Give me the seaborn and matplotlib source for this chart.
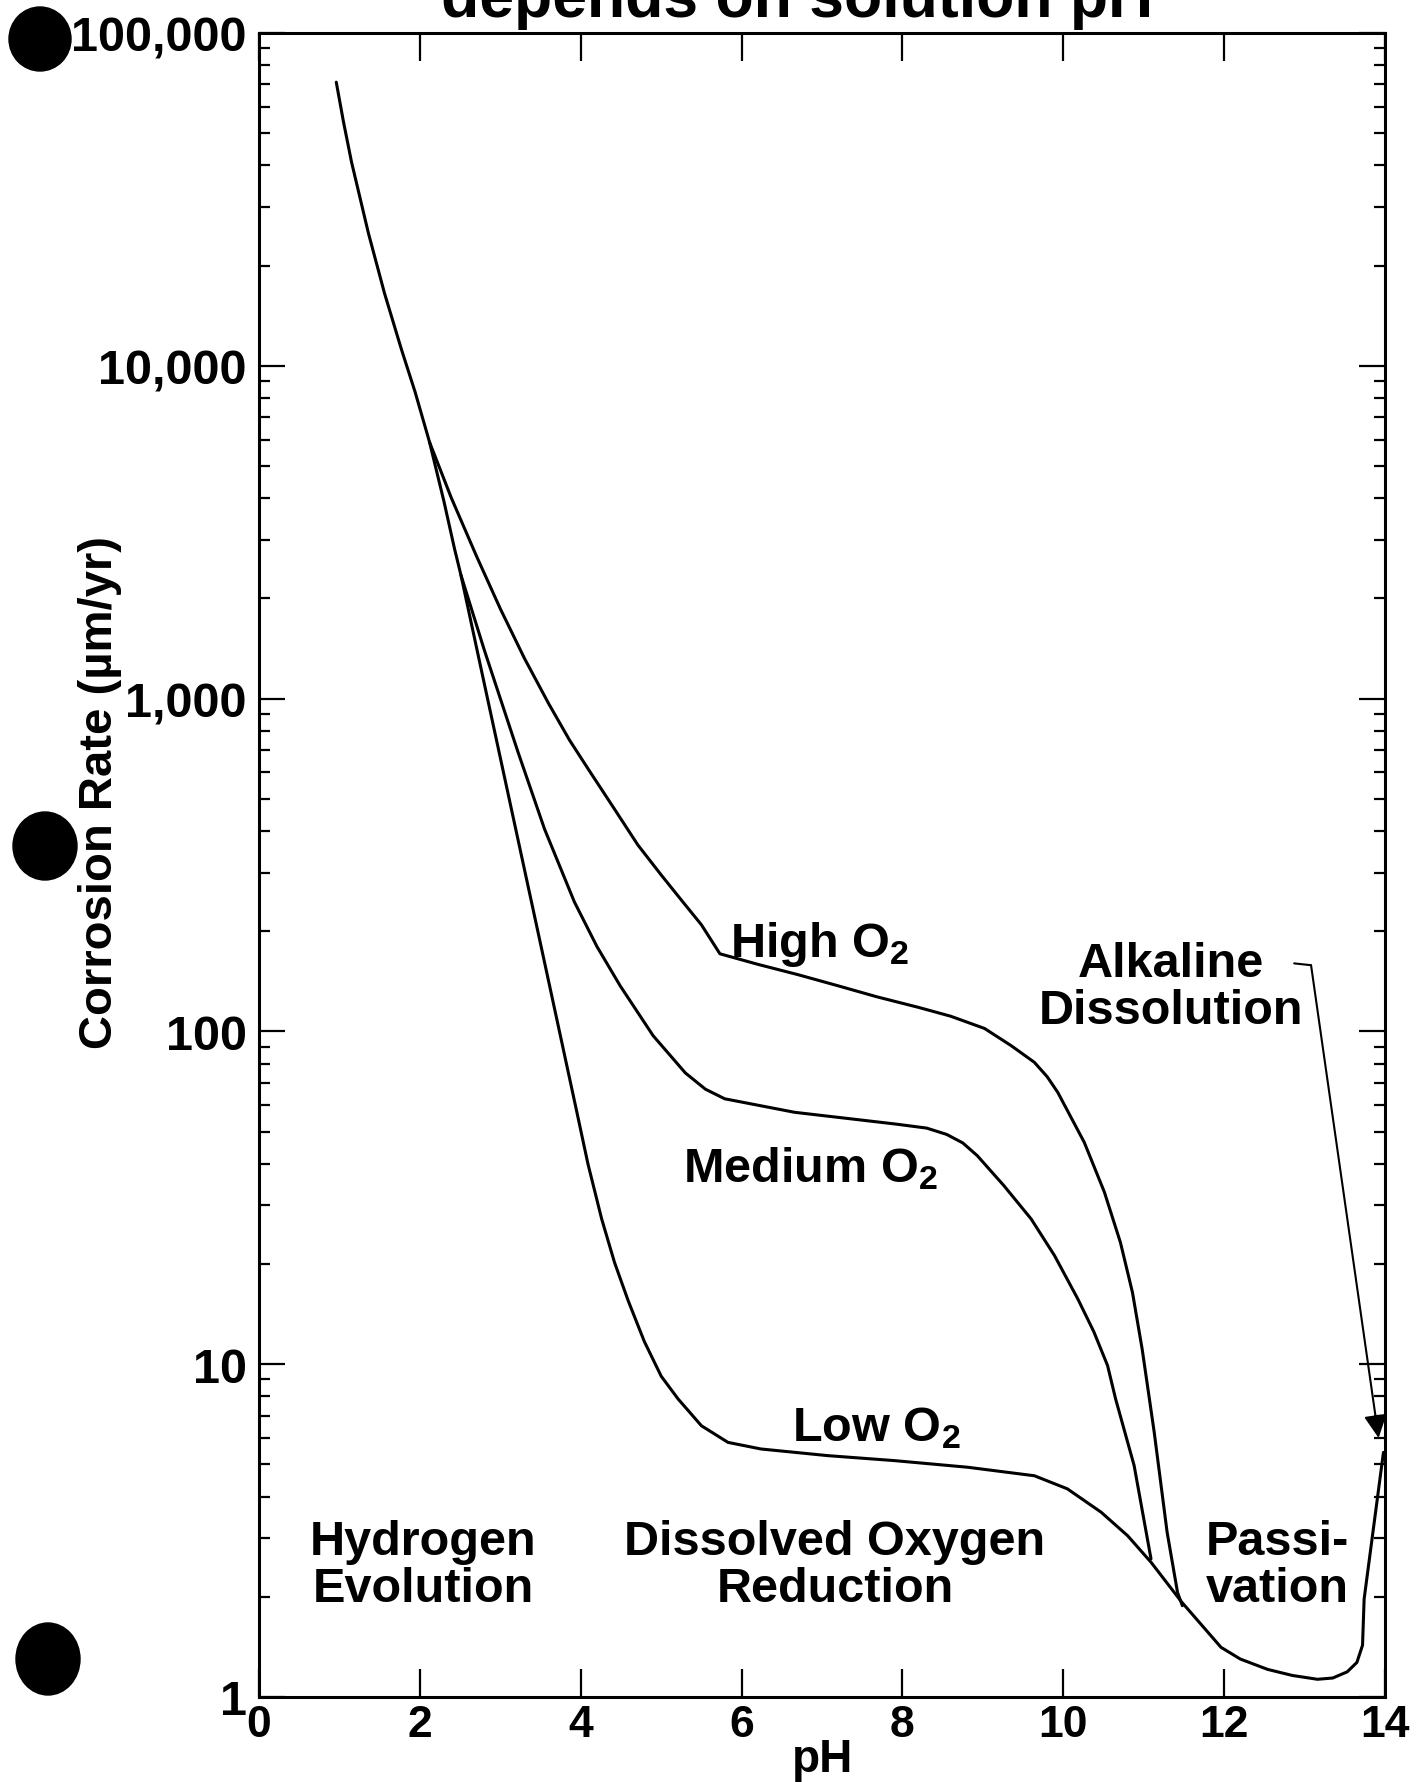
import pandas as pd
import seaborn as sns
import matplotlib.pyplot as plt
from matplotlib import font_manager
from matplotlib.patches import Ellipse
from matplotlib.ticker import NullFormatter

# hydrogen evolution branch, shared by all three curves
acid_ph = [0.96, 1.05, 1.15, 1.36, 1.56, 1.77, 1.94, 2.12]
acid_rate = [71100, 54000, 40900, 25000, 16500, 11200, 8340, 5890]

high_ph = [2.12, 2.39, 2.70, 3.0, 3.3, 3.6, 3.86, 4.1, 4.4, 4.71, 5.0, 5.28, 5.5,
           5.73, 6.2, 6.7, 7.2, 7.68, 8.2, 8.6, 9.02, 9.35, 9.64, 9.8, 9.93, 10.26,
           10.51, 10.71, 10.86, 10.98, 11.07, 11.13, 11.29, 11.42, 11.48]
high_rate = [5890, 4010, 2690, 1860, 1320, 966, 750, 610, 473, 363, 295, 243, 209,
             171, 159, 148, 137, 127, 118, 111, 102, 90.6, 80.7, 73, 65.6, 46.4,
             32.9, 23.2, 16.4, 11.1, 7.86, 6.24, 3.13, 2.06, 1.88]

medium_ph = [2.12, 2.3, 2.43, 2.51, 2.8, 3.22, 3.55, 3.92, 4.2, 4.49, 4.9, 5.3, 5.55,
             5.79, 6.66, 7.9, 8.3, 8.55, 8.75, 8.93, 9.26, 9.6, 9.89, 10.18, 10.38,
             10.55, 10.65, 10.88, 11.09]
medium_rate = [5890, 3900, 2820, 2350, 1400, 690, 405, 245, 180, 137, 97, 75, 67,
               62.7, 57.1, 52.7, 51.2, 49.0, 46.2, 42.3, 34.4, 27.3, 21.2, 15.7, 12.5,
               9.9, 7.86, 4.96, 2.6]

# low O2 curve carries on through the passivation region to pH 14
low_ph = [2.51, 2.8, 3.05, 3.42, 3.63, 3.94, 4.09, 4.26, 4.42, 4.59, 4.79, 5.0, 5.21,
          5.5, 5.83, 6.24, 7.07, 7.9, 8.81, 9.64, 10.05, 10.47, 10.8, 11.09, 11.47,
          11.96, 12.2, 12.54, 12.85, 13.16, 13.35, 13.53, 13.65, 13.72, 13.74, 13.98]
low_rate = [2350, 1110, 583, 225, 131, 58.9, 39.9, 27.3, 20.2, 15.5, 11.7, 9.2, 7.86,
            6.53, 5.82, 5.56, 5.31, 5.13, 4.9, 4.62, 4.22, 3.59, 3.05, 2.54, 1.93,
            1.41, 1.3, 1.21, 1.16, 1.13, 1.14, 1.19, 1.27, 1.43, 1.97, 5.43]

ph_ticks = [0, 2, 4, 6, 8, 10, 12, 14]
rate_ticks = [1, 10, 100, 1000, 10000, 100000]

curve_labels = ["High O$_2$", "Medium O$_2$", "Low O$_2$"]
curve_label_pos = [(6.97, 183), (6.86, 38.8), (7.67, 6.46)]

region_labels = ["Hydrogen\nEvolution", "Dissolved Oxygen\nReduction", "Passi-\nvation",
                 "Alkaline\nDissolution"]
region_label_pos = [(2.04, 2.49), (7.16, 2.49), (12.66, 2.49), (11.34, 136)]

# pointer from "Alkaline Dissolution" down to the end of the curve
pointer_start = (12.87, 160)
pointer_bend = (13.08, 158)
pointer_tip = (13.92, 6.0)

df = pd.concat([
    pd.DataFrame({"pH": acid_ph, "rate": acid_rate, "curve": "acid"}),
    pd.DataFrame({"pH": high_ph, "rate": high_rate, "curve": "high"}),
    pd.DataFrame({"pH": medium_ph, "rate": medium_rate, "curve": "medium"}),
    pd.DataFrame({"pH": low_ph, "rate": low_rate, "curve": "low"}),
], ignore_index=True)

sns.set_style("ticks")
plt.rcParams["font.family"] = ["Liberation Sans", "DejaVu Sans"]
plt.rcParams["font.weight"] = "bold"
plt.rcParams["mathtext.default"] = "regular"
for key in ["text.color", "axes.labelcolor", "xtick.color", "ytick.color", "axes.edgecolor"]:
    plt.rcParams[key] = "black"

fig = plt.figure(figsize=(14.21, 17.83), dpi=100)
ax = fig.add_axes([0.1823, 0.0477, 0.7924, 0.9333])

sns.lineplot(data=df, x="pH", y="rate", units="curve", estimator=None, sort=False,
             color="black", lw=2.2, ax=ax)

ax.set_yscale("log")
ax.set_xlim(0, 14)
ax.set_ylim(1, 100000)

font_names = {f.name for f in font_manager.fontManager.ttflist}
if "Liberation Sans Narrow" in font_names:
    ytick_font, ytick_size = "Liberation Sans Narrow", 41
else:
    ytick_font, ytick_size = "Liberation Sans", 35

ax.set_xticks(ph_ticks, labels=[str(t) for t in ph_ticks], fontsize=32, fontweight="bold")
ax.set_yticks(rate_ticks, labels=[f"{t:,}" for t in rate_ticks], fontsize=ytick_size,
              fontfamily=ytick_font, fontweight="bold")
ax.yaxis.set_minor_formatter(NullFormatter())

ax.tick_params(axis="x", which="major", direction="in", top=True, length=20, width=1.6, pad=5)
ax.tick_params(axis="y", which="major", direction="in", right=True, length=19, width=1.6, pad=9)
ax.tick_params(axis="y", which="minor", direction="in", right=True, length=8, width=1.6)
for s in ax.spines.values():
    s.set_linewidth(2.2)

ax.set_xlabel("pH", fontsize=33, fontweight="bold", labelpad=-6)
ax.set_ylabel("Corrosion Rate (µm/yr)", fontsize=34, fontweight="bold", va="center")
ax.yaxis.set_label_coords(-0.141, 0.544)

for txt, (x, y) in zip(curve_labels, curve_label_pos):
    ax.text(x, y, txt, ha="center", va="center", fontsize=35, fontweight="bold")
for txt, (x, y) in zip(region_labels, region_label_pos):
    ax.text(x, y, txt, ha="center", va="center", fontsize=35, fontweight="bold",
            linespacing=1.05)

ax.plot([pointer_start[0], pointer_bend[0]], [pointer_start[1], pointer_bend[1]],
        color="black", lw=1.5)
ax.annotate("", xy=pointer_tip, xytext=pointer_bend,
            arrowprops=dict(arrowstyle="-|>", color="black", lw=1.5, mutation_scale=35,
                            shrinkA=0, shrinkB=0))

# title line, cut off at the top of the page in the original
fig.text(0.561, 1 - 17 / 1783, "depends on solution pH", ha="center", va="baseline",
         fontsize=45, fontweight="bold")

# punch holes from the scanned page
for cx, cy, w, h in [(40, 40, 62, 64), (45, 847, 64, 68), (48, 1660, 64, 72)]:
    fig.add_artist(Ellipse((cx / 1421, 1 - cy / 1783), w / 1421, h / 1783,
                           transform=fig.transFigure, color="black"))

plt.savefig("out.png", dpi=100)
